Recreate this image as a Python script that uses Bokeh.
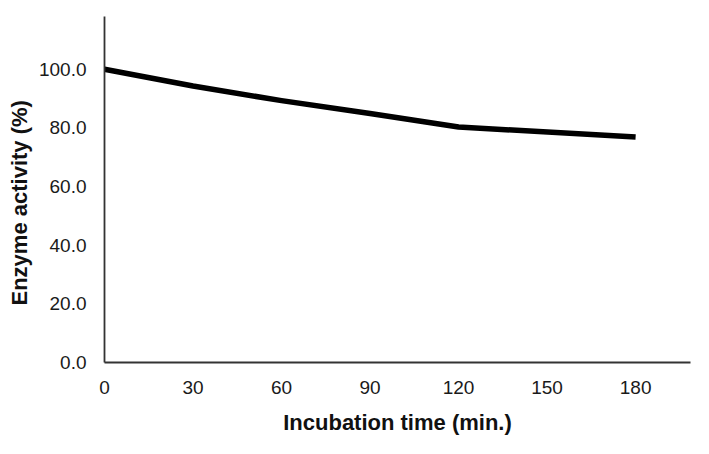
from bokeh.plotting import figure
from bokeh.embed import file_html
from bokeh.resources import INLINE
from bokeh.models import Range1d, FixedTicker, NumeralTickFormatter, Title

time_min = [0, 30, 60, 90, 120, 180]
activity = [100.0, 94.3, 89.3, 84.9, 80.3, 76.9]
x_ticks = [0, 30, 60, 90, 120, 150, 180]
y_ticks = [0, 20, 40, 60, 80, 100]

p = figure(width=693, height=438, output_backend="svg", toolbar_location=None,
           x_range=Range1d(0, 198.6), y_range=Range1d(0, 118),
           min_border_left=104, min_border_right=3, min_border_top=16, min_border_bottom=76)
p.outline_line_color = None
p.grid.grid_line_color = None
p.background_fill_color = "white"

p.line(time_min, activity, line_color="black", line_width=5.5, line_join="round")

font = "Liberation Sans"
p.xaxis.ticker = FixedTicker(ticks=x_ticks)
p.yaxis.ticker = FixedTicker(ticks=y_ticks)
p.yaxis.formatter = NumeralTickFormatter(format="0.0")
for ax in (p.xaxis, p.yaxis):
    ax.major_tick_line_color = None
    ax.minor_tick_line_color = None
    ax.axis_line_color = "#333333"
    ax.axis_line_width = 1.8
    ax.major_label_text_font = font
    ax.major_label_text_font_size = "19px"
    ax.major_label_text_color = "#1a1a1a"
    ax.axis_label_text_font = font
    ax.axis_label_text_font_size = "22px"
    ax.axis_label_text_font_style = "bold"
    ax.axis_label_text_color = "#111111"

p.xaxis.axis_label = "Incubation time (min.)"
p.xaxis.major_label_standoff = 12
p.yaxis.major_label_standoff = 12
p.xaxis.axis_label_standoff = 13

ytitle = Title(text="Enzyme activity (%)", align="left", offset=57, standoff=8,
               text_font=font, text_font_size="22px", text_font_style="bold",
               text_color="#111111")
p.add_layout(ytitle, "left")

open("out.html", "w").write(file_html(p, INLINE))
